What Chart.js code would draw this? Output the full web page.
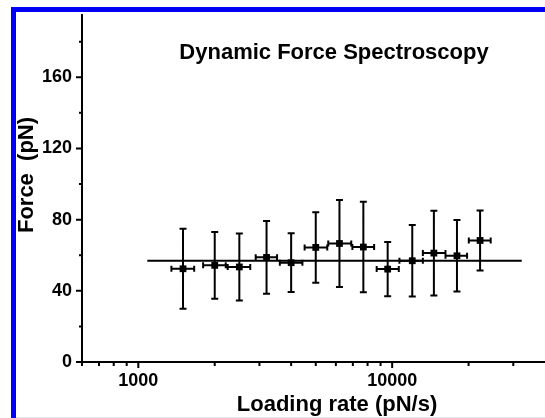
<!DOCTYPE html>
<html>
<head>
<meta charset="utf-8">
<script src="https://cdn.jsdelivr.net/npm/chart.js@4"></script>
<style>
    html, body { margin: 0; padding: 0; background: #fff; }
    #wrap { position: relative; width: 545px; height: 418px; overflow: hidden; }
    #frame { position: absolute; left: 11px; top: 7px; width: 600px; height: 600px;
             border-left: 5px solid #0000f5; border-top: 5px solid #0000f5; }
    #foot { position: absolute; left: 16px; top: 417px; width: 560px; height: 1px; background: #e6e6f2; }
    #chart { position: absolute; left: 0; top: 0; }
</style>
</head>
<body>
<div id="wrap">
    <div id="frame"></div>
    <div id="foot"></div>
    <canvas id="chart" width="545" height="418"></canvas>
</div>
<script>
// Loading rate (pN/s) of each point, with the ends of its horizontal error bar
const loadingRate = [1500, 2000, 2500, 3200, 4000, 5000, 6200, 7700, 9600, 12000, 14600, 18000, 22200];
const rateLow  = [1350, 1800, 2250, 2900, 3610, 4520, 5600, 6970, 8690, 10680, 13210, 16220, 20040];
const rateHigh = [1660, 2210, 2760, 3520, 4430, 5550, 6900, 8490, 10620, 13210, 16220, 19730, 24440];

// Rupture force (pN) and its +/- error
const force    = [52.4, 54.3, 53.4, 58.8, 55.8, 64.4, 66.6, 64.6, 52.2, 56.9, 61.2, 59.7, 68.3];
const forceErr = [22.5, 18.8, 18.8, 20.4, 16.5, 19.8, 24.4, 25.4, 15.2, 20.1, 23.8, 20.1, 16.9];

// constant fit through the data
const fitRate  = [1085, 32400];
const fitForce = [56.9, 56.9];

// axis ticks
const xMajor = [1000, 10000];
const xMinor = [600, 700, 800, 900, 2000, 3000, 4000, 5000, 6000, 7000, 8000, 9000, 20000, 30000];
const yMajor = [0, 40, 80, 120, 160];
const yMinor = [20, 60, 100, 140, 180];

const chartTitle = 'Dynamic Force Spectroscopy';
const xTitle = 'Loading rate (pN/s)';
const yTitle = 'Force  (pN)';

const FAMILY = '"Liberation Sans", Arial, Helvetica, sans-serif';

const errorBars = {
    id: 'errorBars',
    beforeDatasetsDraw(chart) {
        const { ctx, scales: { x, y } } = chart;
        ctx.save();
        ctx.strokeStyle = '#000';
        ctx.lineWidth = 2;
        ctx.beginPath();
        loadingRate.forEach((r, i) => {
            const px = x.getPixelForValue(r);
            const py = y.getPixelForValue(force[i]);
            const top = y.getPixelForValue(force[i] + forceErr[i]);
            const bot = y.getPixelForValue(force[i] - forceErr[i]);
            const l = x.getPixelForValue(rateLow[i]);
            const rr = x.getPixelForValue(rateHigh[i]);
            ctx.moveTo(px, top); ctx.lineTo(px, bot);
            ctx.moveTo(px - 3.5, top); ctx.lineTo(px + 3.5, top);
            ctx.moveTo(px - 3.5, bot); ctx.lineTo(px + 3.5, bot);
            ctx.moveTo(l, py); ctx.lineTo(rr, py);
            ctx.moveTo(l, py - 3); ctx.lineTo(l, py + 3);
            ctx.moveTo(rr, py - 3); ctx.lineTo(rr, py + 3);
        });
        ctx.stroke();
        ctx.restore();
    }
};

// Origin style ticks: long majors, short minors, pointing out
const axisTicks = {
    id: 'axisTicks',
    afterDraw(chart) {
        const { ctx, chartArea, scales: { x, y } } = chart;
        ctx.save();
        ctx.strokeStyle = '#000';
        ctx.lineWidth = 2;
        ctx.beginPath();
        yMajor.forEach(v => { const p = y.getPixelForValue(v); ctx.moveTo(chartArea.left, p); ctx.lineTo(chartArea.left - 6, p); });
        yMinor.forEach(v => { const p = y.getPixelForValue(v); ctx.moveTo(chartArea.left, p); ctx.lineTo(chartArea.left - 3, p); });
        xMajor.forEach(v => { const p = x.getPixelForValue(v); ctx.moveTo(p, chartArea.bottom); ctx.lineTo(p, chartArea.bottom + 6); });
        xMinor.forEach(v => { const p = x.getPixelForValue(v); ctx.moveTo(p, chartArea.bottom); ctx.lineTo(p, chartArea.bottom + 4); });
        ctx.stroke();
        ctx.restore();
    }
};

const titles = {
    id: 'titles',
    afterDraw(chart) {
        const ctx = chart.ctx;
        ctx.save();
        ctx.fillStyle = '#000';
        ctx.font = 'bold 22px ' + FAMILY;
        ctx.textAlign = 'center';
        ctx.textBaseline = 'alphabetic';
        ctx.fillText(chartTitle, 334, 59);
        ctx.fillText(xTitle, 337, 411);
        ctx.translate(33, 175);
        ctx.rotate(-Math.PI / 2);
        ctx.fillText(yTitle, 0, 0);
        ctx.restore();
    }
};

const tickFont = { family: FAMILY, size: 18, weight: 'bold' };

new Chart(document.getElementById('chart'), {
    type: 'scatter',
    data: {
        datasets: [{
            type: 'line',
            data: fitRate.map((r, i) => ({ x: r, y: fitForce[i] })),
            borderColor: '#000',
            borderWidth: 2,
            pointRadius: 0,
            order: 2
        }, {
            data: loadingRate.map((r, i) => ({ x: r, y: force[i] })),
            pointStyle: 'rect',
            pointRadius: 4.8,
            backgroundColor: '#000',
            borderColor: '#000',
            borderWidth: 0,
            order: 1
        }]
    },
    options: {
        responsive: false,
        animation: false,
        devicePixelRatio: 1,
        layout: { autoPadding: false, padding: { top: 15, right: 0, left: 0, bottom: 0 } },
        plugins: { legend: { display: false }, tooltip: { enabled: false } },
        scales: {
            x: {
                type: 'logarithmic',
                min: 600,
                max: 40000,
                grid: { display: false, drawTicks: false },
                border: { display: true, color: '#000', width: 2 },
                ticks: { color: '#000', font: tickFont, padding: 8, maxRotation: 0, autoSkip: false, callback: v => String(v) },
                afterBuildTicks: s => { s.ticks = xMajor.map(v => ({ value: v })); },
                afterFit: s => { s.height = 56; s.paddingLeft = 0; s.paddingRight = 0; }
            },
            y: {
                min: 0,
                max: 195,
                grid: { display: false, drawTicks: false },
                border: { display: true, color: '#000', width: 2 },
                ticks: { color: '#000', font: tickFont, padding: 10, callback: v => String(v) },
                afterBuildTicks: s => { s.ticks = yMajor.map(v => ({ value: v })); },
                afterFit: s => { s.width = 82; s.paddingTop = 0; s.paddingBottom = 0; }
            }
        }
    },
    plugins: [errorBars, axisTicks, titles]
});
</script>
</body>
</html>
